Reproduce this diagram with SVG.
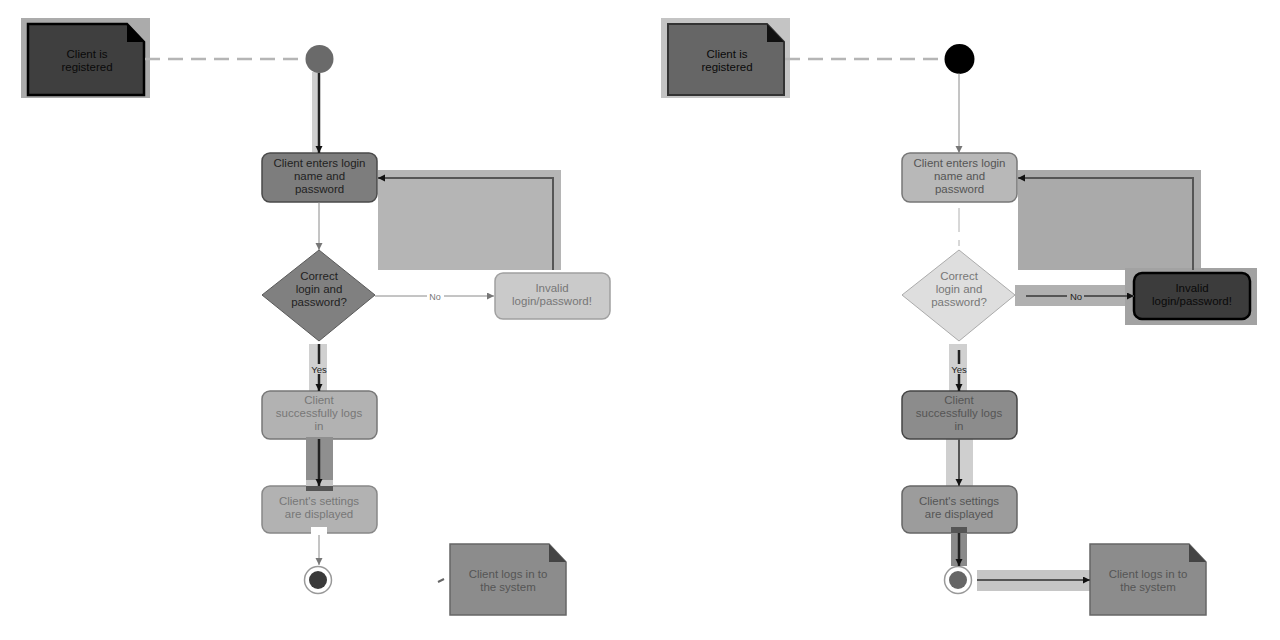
<svg xmlns="http://www.w3.org/2000/svg" width="1280" height="640" viewBox="0 0 1280 640">
<defs>
<marker id="ah" markerUnits="userSpaceOnUse" markerWidth="9" markerHeight="9" refX="7" refY="3.5" orient="auto"><path d="M0 0L7 3.5L0 7z" fill="#111"/></marker>
<marker id="ag" markerUnits="userSpaceOnUse" markerWidth="9" markerHeight="9" refX="7" refY="3.5" orient="auto"><path d="M0 0L7 3.5L0 7z" fill="#777"/></marker>
<g id="noteShape"><path d="M0 0H99L116 18V71H0z"/></g>
</defs>
<style>
text{font-family:"Liberation Sans",Arial,sans-serif;font-size:11.5px;text-anchor:middle}
.c{fill:none}
.thin{stroke:#8a8a8a;stroke-width:1;marker-end:url(#ag)}
.mid{stroke:#555;stroke-width:2;marker-end:url(#ah)}
.bold{stroke:#222;stroke-width:2.5;marker-end:url(#ah)}
.dash{stroke:#b5b5b5;stroke-width:2.5;stroke-dasharray:15 8}
.t0{fill:#0a0a0a}.t1{fill:#222}.t2{fill:#555}.t3{fill:#777}
</style>
<g id="highlights">
<rect x="21" y="18" width="129" height="80" fill="#ababab"/>
<rect x="312" y="72" width="7" height="80" fill="#cfcfcf"/>
<rect x="378" y="170" width="183" height="100" fill="#b5b5b5"/>
<rect x="309" y="344" width="18" height="47" fill="#d0d0d0"/>
<rect x="661" y="18" width="129" height="80" fill="#c4c4c4"/>
<rect x="1018" y="170" width="183" height="100" fill="#aaaaaa"/>
<rect x="1015" y="285" width="112" height="21" fill="#b0b0b0"/>
<rect x="1125" y="268" width="132" height="57" fill="#a2a2a2"/>
<rect x="949" y="344" width="18" height="47" fill="#d0d0d0"/>
<rect x="946" y="437" width="27" height="50" fill="#cfcfcf"/>
<rect x="977" y="570" width="113" height="21" fill="#c6c6c6"/>
</g>
<g id="left-note-registered"><use href="#noteShape" x="28" y="24" fill="#3f3f3f" stroke="#000" stroke-width="2.5"/><path d="M127 24L144 42H127z" fill="#000"/><text class="t0" x="87" y="58">Client is</text><text class="t0" x="87" y="71">registered</text></g>
<g id="left-start"><circle cx="319.5" cy="59" r="14" fill="#6a6a6a"/></g>
<g id="left-enter"><rect x="262" y="153" width="115" height="49" rx="8" fill="#7d7d7d" stroke="#4a4a4a" stroke-width="1.5"/><text class="t1" x="319.5" y="167">Client enters login</text><text class="t1" x="319.5" y="180">name and</text><text class="t1" x="319.5" y="193">password</text></g>
<g id="left-decision"><path d="M319 250L375 295L319 341L262 295z" fill="#808080" stroke="#5a5a5a"/><text class="t1" x="319" y="280">Correct</text><text class="t1" x="319" y="293">login and</text><text class="t1" x="319" y="306">password?</text></g>
<g id="left-invalid"><rect x="495" y="273" width="115" height="46" rx="8" fill="#cacaca" stroke="#a0a0a0" stroke-width="1.5"/><text class="t3" x="552" y="292">Invalid</text><text class="t3" x="552" y="305">login/password!</text></g>
<g id="left-success"><rect x="262" y="391" width="115" height="48" rx="8" fill="#b2b2b2" stroke="#777" stroke-width="1.5"/><text class="t3" x="319" y="404">Client</text><text class="t3" x="319" y="417">successfully logs</text><text class="t3" x="319" y="430">in</text></g>
<g id="left-settings"><rect x="262" y="486" width="115" height="47" rx="8" fill="#b2b2b2" stroke="#888" stroke-width="1.5"/><text class="t3" x="319" y="505">Client's settings</text><text class="t3" x="319" y="518">are displayed</text></g>
<g id="left-end"><circle cx="318" cy="580" r="13.5" fill="#fff" stroke="#999" stroke-width="1.5"/><circle cx="318" cy="580" r="9" fill="#3a3a3a"/></g>
<g id="left-note-logs"><use href="#noteShape" x="450" y="544" fill="#8c8c8c" stroke="#666" stroke-width="1.5"/><path d="M549 544L566 562H549z" fill="#444"/><text class="t2" x="508" y="578">Client logs in to</text><text class="t2" x="508" y="591">the system</text></g>

<g id="right-note-registered"><use href="#noteShape" x="668" y="24" fill="#666" stroke="#333" stroke-width="2"/><path d="M767 24L784 42H767z" fill="#111"/><text class="t0" x="727" y="58">Client is</text><text class="t0" x="727" y="71">registered</text></g>
<g id="right-start"><circle cx="959.5" cy="59" r="15" fill="#000"/></g>
<g id="right-enter"><rect x="902" y="153" width="115" height="49" rx="8" fill="#b8b8b8" stroke="#777" stroke-width="1.5"/><text class="t2" x="959.5" y="167">Client enters login</text><text class="t2" x="959.5" y="180">name and</text><text class="t2" x="959.5" y="193">password</text></g>
<g id="right-decision"><path d="M959 250L1015 295L959 341L902 295z" fill="#dedede" stroke="#ababab"/><text class="t3" x="959" y="280">Correct</text><text class="t3" x="959" y="293">login and</text><text class="t3" x="959" y="306">password?</text></g>
<g id="right-invalid"><rect x="1134" y="273" width="116" height="46" rx="8" fill="#3c3c3c" stroke="#000" stroke-width="2.5"/><text class="t0" x="1192" y="292">Invalid</text><text class="t0" x="1192" y="305">login/password!</text></g>
<g id="right-success"><rect x="902" y="391" width="115" height="48" rx="8" fill="#8c8c8c" stroke="#444" stroke-width="1.5"/><text class="t2" x="959" y="404">Client</text><text class="t2" x="959" y="417">successfully logs</text><text class="t2" x="959" y="430">in</text></g>
<g id="right-settings"><rect x="902" y="486" width="115" height="47" rx="8" fill="#9c9c9c" stroke="#666" stroke-width="1.5"/><text class="t2" x="959" y="505">Client's settings</text><text class="t2" x="959" y="518">are displayed</text></g>
<g id="right-end"><circle cx="958" cy="580" r="13.5" fill="#fff" stroke="#999" stroke-width="1.5"/><circle cx="958" cy="580" r="9" fill="#666"/></g>
<g id="right-note-logs"><use href="#noteShape" x="1090" y="544" fill="#8c8c8c" stroke="#666" stroke-width="1.5"/><path d="M1189 544L1206 562H1189z" fill="#444"/><text class="t2" x="1148" y="578">Client logs in to</text><text class="t2" x="1148" y="591">the system</text></g>

<g id="connectors" class="c">
<path class="dash" d="M145 59H305"/>
<path class="bold" d="M319 73V153"/>
<path class="thin" d="M319 202V250"/>
<path class="mid" d="M553 270V178H378"/>
<path class="thin" d="M375 296H494"/>
<path class="bold" d="M319 344V391"/>
<rect x="306" y="437" width="27" height="43" fill="#8f8f8f"/>
<rect x="306" y="480" width="27" height="6" fill="#c4c4c4"/>
<rect x="306" y="486" width="27" height="5" fill="#555"/>
<path class="bold" d="M319 439V486"/>
<rect x="311" y="527" width="16" height="8" fill="#fff"/>
<path class="thin" d="M319 535V565"/>
<path stroke="#666" stroke-width="2" d="M438 582L444 579"/>

<path class="dash" d="M785 59H945"/>
<path class="thin" d="M959 73V153"/>
<path stroke="#b0b0b0" d="M959 208V232M959 240V246"/>
<path class="mid" d="M1193 270V178H1018"/>
<path class="mid" d="M1026 296H1134"/>
<path class="bold" d="M959 350V391"/>
<path class="mid" d="M959 439V486"/>
<rect x="951" y="527" width="16" height="6" fill="#555"/>
<rect x="951" y="533" width="16" height="33" fill="#8a8a8a"/>
<path class="bold" d="M959 533V566"/>
<path class="mid" d="M977 580H1090"/>
</g>
<g id="edge-labels">
<rect x="427" y="291" width="17" height="11" fill="#fff"/><text class="t3" x="435" y="300" style="font-size:9px">No</text>
<rect x="309" y="364" width="18" height="10" fill="#d0d0d0"/><text class="t1" x="319" y="373" style="font-size:9.5px">Yes</text>
<rect x="1067" y="291" width="17" height="11" fill="#b0b0b0"/><text class="t1" x="1076" y="300" style="font-size:9.5px">No</text>
<rect x="949" y="364" width="18" height="10" fill="#d0d0d0"/><text class="t1" x="959" y="373" style="font-size:9.5px">Yes</text>
</g>
</svg>
